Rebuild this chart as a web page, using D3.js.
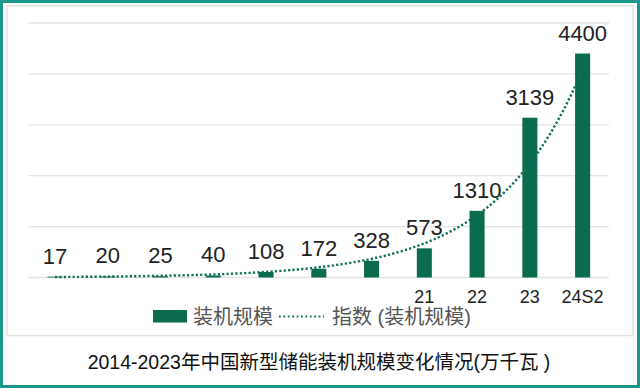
<!DOCTYPE html>
<html>
<head>
<meta charset="utf-8">
<script src="https://cdn.jsdelivr.net/npm/d3@7"></script>
<style>
  html, body { margin: 0; padding: 0; background: #fff; }
  svg { display: block; }
</style>
</head>
<body>
<div id="chart-area"></div>
<script>
// chart data
const years = ["2014", "2015", "2016", "2017", "2018", "2019", "2020", "2021", "2022", "2023", "2024S2"]
const capacity = [17, 20, 25, 40, 108, 172, 328, 573, 1310, 3139, 4400]
const tickLabels = ["", "", "", "", "", "", "", "21", "22", "23", "24S2"]
const yTicks = [0, 1000, 2000, 3000, 4000, 5000]

const W = 640, H = 388
const barColor = "#0b6b4f"
const lineColor = "#11705c"
const latin = "'Liberation Sans', Arial, Helvetica, sans-serif"
const cjk = "'Liberation Sans', 'Noto Sans CJK SC', sans-serif"

const svg = d3.select("#chart-area").append("svg")
	.attr("width", W)
	.attr("height", H)

// outer teal frame + inner grey box
svg.append("rect")
	.attr("x", 1.5).attr("y", 1.5)
	.attr("width", W - 3).attr("height", H - 3)
	.attr("fill", "#fff")
	.attr("stroke", "#1a968a")
	.attr("stroke-width", 3)

svg.append("rect")
	.attr("x", 7).attr("y", 6)
	.attr("width", 626).attr("height", 329.5)
	.attr("fill", "none")
	.attr("stroke", "#e2e0dc")
	.attr("stroke-width", 1.5)

const x = d3.scaleBand()
	.domain(years)
	.range([28.6, 609])
	.paddingInner(0.715)
	.paddingOuter(0.3575)

const y = d3.scaleLinear()
	.domain([0, 5000])
	.range([277.5, 23])

// gridlines
svg.append("g")
	.selectAll("line")
	.data(yTicks)
	.enter().append("line")
		.attr("x1", 28.6)
		.attr("x2", 609)
		.attr("y1", d => y(d))
		.attr("y2", d => y(d))
		.attr("stroke", "#e3e3e3")
		.attr("stroke-width", 1.3)

// bars
svg.append("g")
	.selectAll("rect")
	.data(capacity)
	.enter().append("rect")
		.attr("x", (d, i) => x(years[i]))
		.attr("y", d => y(d))
		.attr("width", x.bandwidth())
		.attr("height", d => y(0) - y(d))
		.attr("fill", barColor)

// exponential trendline (least squares on ln y, like Excel)
const n = capacity.length
const xs = d3.range(1, n + 1)
const lnY = capacity.map(v => Math.log(v))
const mx = d3.mean(xs), my = d3.mean(lnY)
const b = d3.sum(xs, (v, i) => (v - mx) * (lnY[i] - my)) / d3.sum(xs, v => (v - mx) * (v - mx))
const lnA = my - b * mx
const cx = i => x(years[i]) + x.bandwidth() / 2
const step = (cx(n - 1) - cx(0)) / (n - 1)
const trend = d3.range(1, n + 0.001, 0.05).map(t => [cx(0) + (t - 1) * step, y(Math.exp(lnA + b * t))])

svg.append("path")
	.attr("d", d3.line().curve(d3.curveLinear)(trend))
	.attr("fill", "none")
	.attr("stroke", lineColor)
	.attr("stroke-width", 2.4)
	.attr("stroke-dasharray", "2.2,2.2")

// value labels
svg.append("g")
	.selectAll("text")
	.data(capacity)
	.enter().append("text")
		.attr("x", (d, i) => cx(i))
		.attr("y", d => y(d) - 13)
		.attr("text-anchor", "middle")
		.attr("font-family", latin)
		.attr("font-size", 22)
		.attr("fill", "#222")
		.text(d => d)

// category axis labels
svg.append("g")
	.selectAll("text")
	.data(tickLabels)
	.enter().append("text")
		.attr("x", (d, i) => cx(i))
		.attr("y", 303)
		.attr("text-anchor", "middle")
		.attr("font-family", latin)
		.attr("font-size", 18)
		.attr("fill", "#222")
		.text(d => d)

// legend
const lg = svg.append("g")
lg.append("rect")
	.attr("x", 153).attr("y", 310)
	.attr("width", 34).attr("height", 12.5)
	.attr("fill", barColor)
lg.append("text")
	.attr("x", 193).attr("y", 323.5)
	.attr("font-family", cjk)
	.attr("font-size", 20)
	.attr("fill", "#555")
	.text("装机规模")
lg.append("line")
	.attr("x1", 279).attr("x2", 324)
	.attr("y1", 316.5).attr("y2", 316.5)
	.attr("stroke", lineColor)
	.attr("stroke-width", 2)
	.attr("stroke-dasharray", "1.8,2.6")
lg.append("text")
	.attr("x", 332).attr("y", 323.5)
	.attr("font-family", cjk)
	.attr("font-size", 20)
	.attr("fill", "#555")
	.text("指数 (装机规模)")

// title
svg.append("text")
	.attr("x", 319).attr("y", 368.5)
	.attr("text-anchor", "middle")
	.attr("font-family", cjk)
	.attr("font-size", 19.5)
	.attr("fill", "#111")
	.text("2014-2023年中国新型储能装机规模变化情况(万千瓦 )")
</script>
</body>
</html>
